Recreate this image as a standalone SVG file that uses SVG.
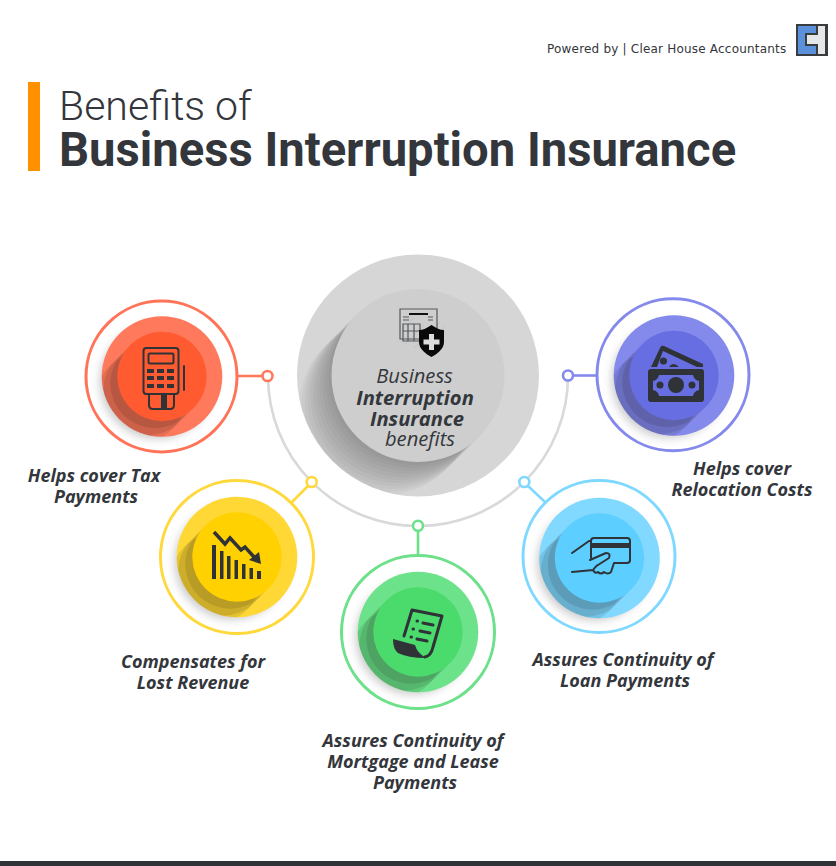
<svg xmlns="http://www.w3.org/2000/svg" width="836" height="866" viewBox="0 0 836 866">
<style>
.lab{font-family:"Open Sans",sans-serif;font-weight:700;font-style:italic;font-size:18px;fill:#33363b;text-anchor:middle}
.cen{font-family:"Open Sans",sans-serif;font-style:italic;font-size:20.200px;fill:#33363b;text-anchor:middle}
.b{font-weight:700}
.ic{fill:none;stroke:#2f3237;stroke-width:2;stroke-linecap:round;stroke-linejoin:round}
.if{fill:#2f3237}
.dot{fill:#fff;stroke-width:2.600}
.ring{fill:#fff;stroke-width:3}
.ln{fill:none;stroke-width:2.600}
</style>
<defs>
<filter id="soft" x="-30%" y="-30%" width="160%" height="160%"><feGaussianBlur stdDeviation="5"/></filter>
<g id="s44" fill="#000" fill-opacity=".1"><circle cx="-7" cy="7" r="44.700"/><circle cx="-14" cy="14" r="44.700"/><circle cx="-21" cy="21" r="44.700"/></g>
<g id="s86" fill="#000" fill-opacity=".027"><circle cx="-3" cy="3" r="86.500"/><circle cx="-6" cy="6" r="86.500"/><circle cx="-9" cy="9" r="86.500"/><circle cx="-12" cy="12" r="86.500"/><circle cx="-15" cy="15" r="86.500"/><circle cx="-18" cy="18" r="86.500"/><circle cx="-21" cy="21" r="86.500"/><circle cx="-24" cy="24" r="86.500"/><circle cx="-27" cy="27" r="86.500"/><circle cx="-30" cy="30" r="86.500"/><circle cx="-33" cy="33" r="86.500"/></g>
<circle id="glow" cx="-5" cy="5" r="57" fill="#000" fill-opacity=".22" filter="url(#soft)"/>
<clipPath id="cm"><circle r="60.300"/></clipPath>
<clipPath id="cc"><circle r="121"/></clipPath>
</defs>
<rect width="836" height="866" fill="#fff"/>
<g id="header">
<rect x="28" y="82" width="12" height="89" fill="#ff9000"/>
<text x="59" y="119.500" font-family="Roboto,sans-serif" font-weight="300" font-size="41" fill="#33363b">Benefits of</text>
<text x="59" y="166" font-family="Roboto,sans-serif" font-weight="700" font-size="47.200" fill="#33363b">Business Interruption Insurance</text>
<text x="547" y="53" font-family="'DejaVu Sans',sans-serif" font-size="12" letter-spacing=".2" fill="#33363b">Powered by | Clear House Accountants</text>
<g id="logo"><rect x="796" y="24" width="32" height="32" fill="#3a3d40"/><rect x="798" y="26" width="28" height="28" fill="#5b90db"/><path d="M817 25h9v30h-9v-10h-11v-11h11z" fill="#e6e7e9" stroke="#3a3d40" stroke-width="2"/></g>
</g>
<g id="connectors">
<path class="ln" d="M268 376A150 150 0 0 0 568 376" stroke="#d9d9d9"/>
<path class="ln" stroke="#ff7a5c" d="M238 376H262"/>
<path class="ln" stroke="#ffd83c" d="M292 502L308 486"/>
<path class="ln" stroke="#6de08a" d="M418 531V554"/>
<path class="ln" stroke="#7fd8ff" d="M545 502L528 486"/>
<path class="ln" stroke="#8489ec" d="M574 375.500H596"/>
<circle class="dot" cx="267.500" cy="376" r="5" stroke="#ff7a5c"/>
<circle class="dot" cx="311.700" cy="482" r="5" stroke="#ffd83c"/>
<circle class="dot" cx="418" cy="525.700" r="5" stroke="#6de08a"/>
<circle class="dot" cx="524.300" cy="482" r="5" stroke="#7fd8ff"/>
<circle class="dot" cx="568" cy="375.500" r="5" stroke="#8489ec"/>
</g>
<g id="center" transform="translate(418 375.500)">
<circle r="121" fill="#d6d6d6"/>
<g clip-path="url(#cc)"><use href="#s86"/></g>
<circle r="86.500" fill="#cecece"/>
<g transform="translate(-418 -375.500)">
<path d="M404 345L424 325M414 348L440 322M400 332L414 318M424 348L446 326" stroke="#c2c2c2" stroke-width="1" fill="none"/>
<path d="M400 309H437V339H400Z" fill="none" stroke="#55585c" stroke-width="1.200"/>
<path d="M403 324H420V341H403ZM408 324V341M414 324V341M403 331H420" fill="none" stroke="#55585c" stroke-width="1.200"/>
<path d="M409 314H428" stroke="#111" stroke-width="2"/>
<path d="M403 317H409M403 320H409M428 317H433M428 320H433" stroke="#55585c" stroke-width="1"/>
<path d="M431.500 325C427 328 423 330 419 330V342C419 349 426 354 431.500 357C437 354 444 349 444 342V330C440 330 436 328 431.500 325Z" fill="#0a0a0a"/>
<path d="M429 334H434V339.500H439.500V344.500H434V350H429V344.500H423.500V339.500H429Z" fill="#ddd"/>
</g>
<text class="cen" x="-3.500" y="7">Business</text>
<text class="cen b" x="-3" y="29">Interruption</text>
<text class="cen b" x="-1" y="50">Insurance</text>
<text class="cen" x="2" y="70">benefits</text>
</g>
<g id="node-tax">
<circle class="ring" cx="161.500" cy="376.500" r="75.500" stroke="#ff7359"/>
<g transform="translate(162 376.500)"><use href="#glow"/><circle r="60.300" fill="#ff7a5c"/><g clip-path="url(#cm)"><use href="#s44"/></g><circle r="44.700" fill="#ff5a30"/></g>
<rect class="ic" x="143.500" y="348" width="35" height="46" rx="3"/>
<rect class="ic" x="148.500" y="353.500" width="25" height="10" rx="1.500"/>
<path class="if" d="M147 369h7v4h-7zM157 369h7v4h-7zM167 369h7v4h-7zM147 376h7v4h-7zM157 376h7v4h-7zM167 376h7v4h-7zM147 384h7v4h-7zM157 384h7v4h-7zM167 384h7v4h-7z"/>
<path class="ic" d="M184 366V390M149 395V405Q149 409 153 409H170Q174 409 174 405V395"/>
<rect class="if" x="161" y="395" width="6" height="14"/>
</g>
<g id="node-revenue">
<circle class="ring" cx="237" cy="557" r="76.500" stroke="#ffd83c"/>
<g transform="translate(237 557)"><use href="#glow"/><circle r="60.300" fill="#ffd836"/><g clip-path="url(#cm)"><use href="#s44"/></g><circle r="44.700" fill="#ffd100"/></g>
<path class="if" d="M212 545h4v34h-4zM220 551h3.500v28h-3.500zM227 556h3.500v23h-3.500zM234.500 560h3.500v19h-3.500zM242 564h3.500v15h-3.500zM249.500 568h3.500v11h-3.500zM257 571h4v8h-4z"/>
<path d="M214 532L225 544L230 538L241 550L245 547L255 558" fill="none" stroke="#2f3237" stroke-width="3.500"/>
<path class="if" d="M261 564L249 560L259 552Z"/>
</g>
<g id="node-mortgage">
<circle class="ring" cx="418" cy="632" r="76.500" stroke="#6de08a"/>
<g transform="translate(418 632)"><use href="#glow"/><circle r="60.300" fill="#6ce28a"/><g clip-path="url(#cm)"><use href="#s44"/></g><circle r="44.700" fill="#4bda6c"/></g>
<path class="ic" style="stroke-width:3" d="M404 636L412 610L442 616L433 647Q431 656 425 657"/>
<path class="if" d="M393 639L415 645Q417 653 426 658Q408 658 398 653Q393 649 393 639Z"/>
<path class="ic" style="stroke-width:3" d="M417 621h.5M423 623L433 625M413 629h.5M420 631L430 633M411 637h.5M417 639L427 641"/>
</g>
<g id="node-loan">
<circle class="ring" cx="599" cy="556.500" r="76" stroke="#7fd8ff"/>
<g transform="translate(599.500 558)"><use href="#glow"/><circle r="60.300" fill="#82d9ff"/><g clip-path="url(#cm)"><use href="#s44"/></g><circle r="44.700" fill="#5cceff"/></g>
<path class="ic" d="M572 553L589 541H591M591 558V541Q591 538 594 538H627Q630 538 630 541V560Q630 563 627 563H614M572 572L593 570Q597 565 598 565L609 558Q611 553 606 553L590 560M593 570Q595 574 598 572Q601 575 604 572Q608 575 611 572L614 563"/>
<rect class="if" x="591" y="543" width="39" height="5"/>
</g>
<g id="node-relocation">
<circle class="ring" cx="673" cy="374.800" r="76" stroke="#8489ec"/>
<g transform="translate(674 375.500)"><use href="#glow"/><circle r="60.300" fill="#8489ec"/><g clip-path="url(#cm)"><use href="#s44"/></g><circle r="44.700" fill="#666ee2"/></g>
<path class="if" d="M651 367L660 348Q661 345 664 346L703 364V367H697L663 351L657 367ZM660 361a3 3 0 1 1 7 0a3 3 0 1 1 -7 0M669 367q4-6 10 0Z"/>
<path class="if" fill-rule="evenodd" d="M651 369H701Q704 369 704 372V399Q704 402 701 402H651Q648 402 648 399V372Q648 369 651 369ZM659 375Q658 380 653 381V390Q658 391 659 396H693Q694 391 699 390V381Q694 380 693 375Z"/>
<circle class="if" cx="676" cy="385" r="8"/><circle class="if" cx="660" cy="385" r="3.500"/><circle class="if" cx="692" cy="385" r="3.500"/>
</g>
<g id="labels">
<text class="lab" x="94" y="482">Helps cover Tax</text>
<text class="lab" x="96" y="503">Payments</text>
<text class="lab" x="193" y="668">Compensates for</text>
<text class="lab" x="193" y="689">Lost Revenue</text>
<text class="lab" x="413" y="747">Assures Continuity of</text>
<text class="lab" x="413" y="768">Mortgage and Lease</text>
<text class="lab" x="415" y="789">Payments</text>
<text class="lab" x="623" y="666">Assures Continuity of</text>
<text class="lab" x="625" y="687">Loan Payments</text>
<text class="lab" x="742" y="475">Helps cover</text>
<text class="lab" x="742" y="496">Relocation Costs</text>
</g>
<rect id="footer" x="0" y="861" width="836" height="5" fill="#2f3237"/>
</svg>
